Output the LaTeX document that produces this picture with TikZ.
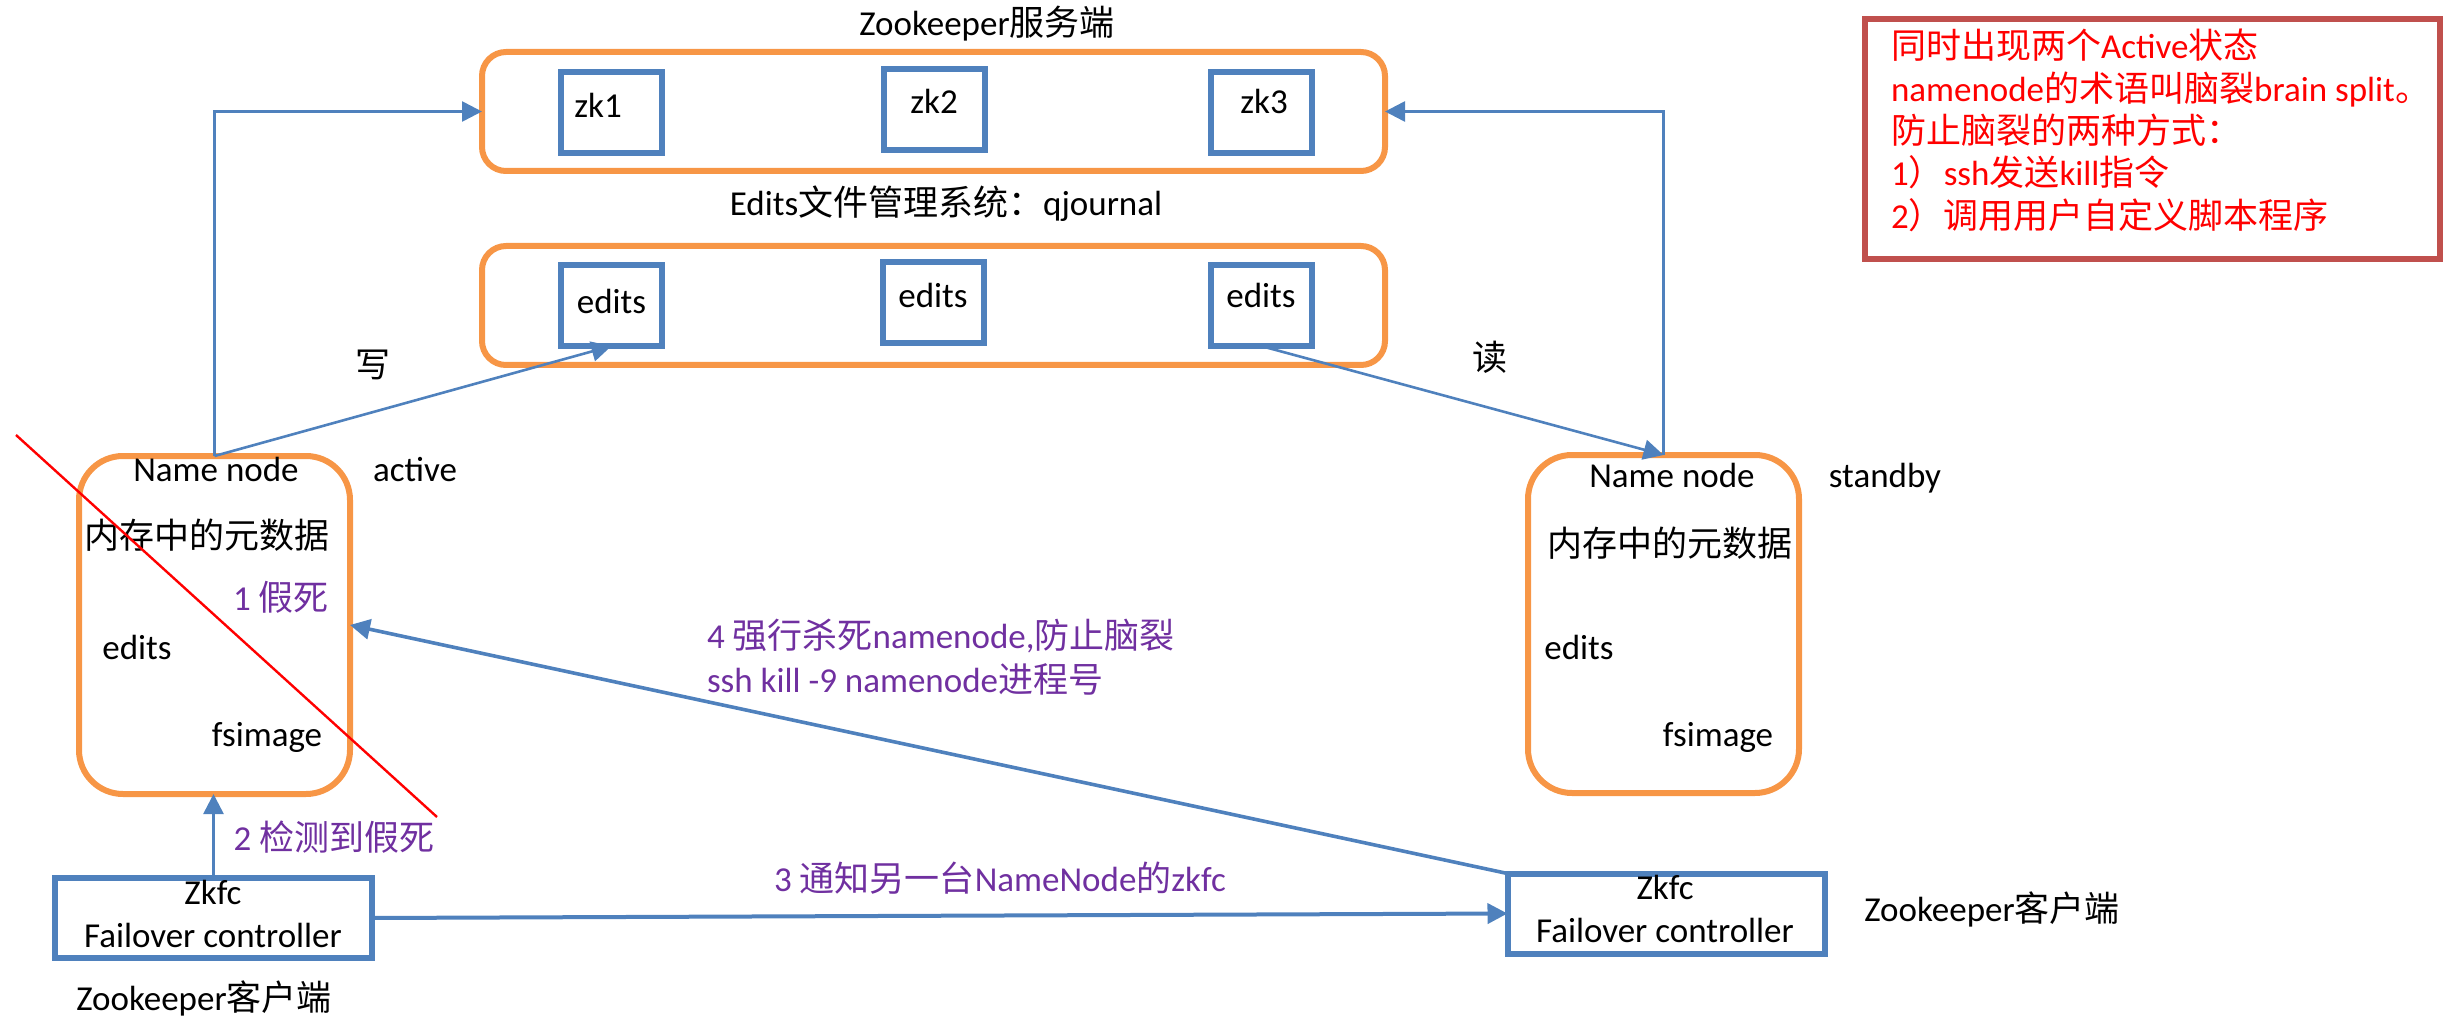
\documentclass[tikz,border=0pt]{standalone}
\usepackage{fontspec}
\setmainfont{Carlito}
\newfontfamily\cjk{Noto Sans CJK SC}
\usetikzlibrary{arrows.meta}
\definecolor{orng}{HTML}{F79646}
\definecolor{blu}{HTML}{4F81BD}
\definecolor{rbox}{HTML}{C0504D}
\definecolor{purp}{HTML}{7030A0}
\newcommand{\zh}[1]{{\cjk #1}}
\begin{document}
\begin{tikzpicture}[x=0.5pt,y=-0.5pt,
  every node/.style={font=\fontsize{17.5pt}{21pt}\selectfont, inner sep=0pt, outer sep=0pt},
  txt/.style={text height=0.7em, text depth=0.2em},
  ptxt/.style={txt, text=purp},
  rtxt/.style={txt, text=red, anchor=west},
  contbox/.style={draw=orng, line width=3pt, rounded corners=12pt, minimum width=451.5pt, minimum height=59.5pt},
  nnbox/.style={draw=orng, line width=3pt, rounded corners=22pt, minimum width=135.5pt, minimum height=169pt},
  smallbox/.style={draw=blu, line width=3pt, minimum width=50.5pt, minimum height=40.5pt, fill=white},
  zkfcbox/.style={draw=blu, line width=3pt, minimum width=158.5pt, minimum height=40pt},
  conn/.style={draw=blu, line width=1.3pt, -{Triangle[length=10pt,width=10pt]}},
]
\useasboundingbox (0,0) rectangle (2448,1027);

% Zookeeper server cluster
\node[txt] (t1) at (987,31) {Zookeeper\zh{服务端}};
\node[contbox] (zkc) at (933.5,111.5) {};
\node[smallbox] (zk1) at (611.5,112.5) {};
\node[txt] (zk1t) at (598,113) {zk1};
\node[smallbox] (zk2) at (934,110) {};
\node[txt] (zk2t) at (934,109) {zk2};
\node[smallbox] (zk3) at (1261,112.5) {};
\node[txt] (zk3t) at (1264,109) {zk3};

% Edits / qjournal
\node[txt] (t2) at (946,211) {Edits\zh{文件管理系统：}qjournal};
\node[contbox] (edc) at (933.5,305.5) {};
\node[smallbox] (ed1) at (611.5,305.5) {};
\node[txt] (ed1t) at (611.5,309) {edits};
\node[smallbox] (ed2) at (933,303) {};
\node[txt] (ed2t) at (933,303) {edits};
\node[smallbox] (ed3) at (1261,305.5) {};
\node[txt] (ed3t) at (1261,303) {edits};

\node[txt] (wr) at (373,373) {\zh{写}};
\node[txt] (rd) at (1490,366) {\zh{读}};

% Active NameNode
\node[nnbox] (ann) at (214.5,625) {};
\node[txt] (ann1) at (216,476) {Name node};
\node[txt] (annst) at (415,476) {active};
\node[txt] (ann2) at (207,543) {\zh{内存中的元数据}};
\node[ptxt] (ann3) at (281,605) {1 \zh{假死}};
\node[txt] (ann4) at (137,654) {edits};
\node[txt] (ann5) at (267,741) {fsimage};

% Standby NameNode
\node[nnbox] (snn) at (1663.5,624) {};
\node[txt] (snn1) at (1672,482) {Name node};
\node[txt] (snnst) at (1885,482) {standby};
\node[txt] (snn2) at (1670,551) {\zh{内存中的元数据}};
\node[txt] (snn4) at (1579,654) {edits};
\node[txt] (snn5) at (1718,741) {fsimage};

% Zkfc boxes
\node[zkfcbox] (zl) at (213.5,918) {};
\node[txt] (zl1) at (213,899) {Zkfc};
\node[txt] (zl2) at (213,942) {Failover controller};
\node[txt] (zlc) at (204,1005) {Zookeeper\zh{客户端}};
\node[zkfcbox] (zr) at (1666,913.5) {};
\node[txt] (zr1) at (1665,894) {Zkfc};
\node[txt] (zr2) at (1665,937) {Failover controller};
\node[txt] (zrc) at (1992,916) {Zookeeper\zh{客户端}};

% purple labels
\node[ptxt] (l2) at (334,845) {2 \zh{检测到假死}};
\node[ptxt] (l3) at (1000,886) {3 \zh{通知另一台}NameNode\zh{的}zkfc};
\node[ptxt, anchor=west] (l4a) at (707,643) {4 \zh{强行杀死}namenode,\zh{防止脑裂}};
\node[ptxt, anchor=west] (l4b) at (707,687) {ssh kill -9 namenode\zh{进程号}};

% red note
\node[draw=rbox, line width=3pt, minimum width=287.5pt, minimum height=120pt] (notebox) at (2152.5,139) {};
\node[rtxt] (n1) at (1891,54) {\zh{同时出现两个}Active\zh{状态}};
\node[rtxt] (n2) at (1891,97) {namenode\zh{的术语叫脑裂}brain split\zh{。}};
\node[rtxt] (n3) at (1891,139) {\zh{防止脑裂的两种方式：}};
\node[rtxt] (n4) at (1891,181) {1\zh{）}ssh\zh{发送}kill\zh{指令}};
\node[rtxt] (n5) at (1891,224) {2\zh{）调用用户自定义脚本程序}};

% connectors
\draw[conn] (ann.north) |- (zkc.west);
\draw[conn] (snn.north) |- (zkc.east);
\draw[conn] (ann.north) -- (ed1.south);
\draw[conn] (ed3.south) -- (snn.north);
\draw[conn] (zl.north) -- (zl.north |- ann.south);
\draw[conn, line width=2pt] (zl.east) -- (zr.west);
\draw[conn, line width=1.8pt] (zr.north west) -- (ann.east);

% red strike line
\coordinate (r1) at (16,435);
\coordinate (r2) at (437,817);
\draw[red, line width=1.2pt] (r1) -- (r2);
\end{tikzpicture}
\end{document}
